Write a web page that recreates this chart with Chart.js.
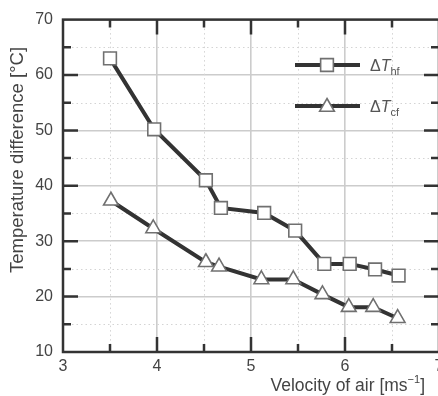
<!DOCTYPE html>
<html>
<head>
<meta charset="utf-8">
<script src="https://cdn.jsdelivr.net/npm/chart.js@4.4.1/dist/chart.umd.min.js"></script>
<style>
  html, body { margin: 0; padding: 0; background: #fff; overflow: hidden; }
  #wrap { width: 460px; height: 396px; position: relative; }
</style>
</head>
<body>
<div id="wrap"><canvas id="chart"></canvas></div>
<script>
// values
const hfVelocity = [3.50, 3.97, 4.52, 4.68, 5.14, 5.47, 5.78, 6.05, 6.32, 6.57];
const hfDelta    = [63.0, 50.2, 41.0, 36.0, 35.1, 31.9, 25.9, 25.9, 24.9, 23.8];
const cfVelocity = [3.51, 3.96, 4.52, 4.66, 5.11, 5.45, 5.76, 6.04, 6.30, 6.56];
const cfDelta    = [37.3, 32.3, 26.2, 25.4, 23.1, 23.1, 20.4, 18.1, 18.1, 16.1];

const xMin = 3, xMax = 7, xStep = 0.5;
const yMin = 10, yMax = 70, yStep = 5;

const FONT = "'Liberation Sans', Arial, sans-serif";
const AXIS = "#333";
const MARK = "#707070";

function pairs(xs, ys) {
    return xs.map((x, i) => ({ x: x, y: ys[i] }));
}

// inward ticks, dotted minor grid, frame, legend and axis titles
const decorations = {
    id: "decorations",
    beforeDatasetsDraw(chart) {
        const ctx = chart.ctx;
        const a = chart.chartArea;
        const xs = chart.scales.x, ys = chart.scales.y;
        ctx.save();
        ctx.strokeStyle = "#d4d4d4";
        ctx.lineWidth = 1;
        ctx.setLineDash([1.5, 3]);
        for (let v = xMin; v <= xMax; v += xStep) {
            if (Number.isInteger(v)) continue;
            const px = Math.round(xs.getPixelForValue(v)) + 0.5;
            ctx.beginPath(); ctx.moveTo(px, a.top); ctx.lineTo(px, a.bottom); ctx.stroke();
        }
        for (let v = yMin; v <= yMax; v += yStep) {
            if (v % 10 === 0) continue;
            const py = Math.round(ys.getPixelForValue(v)) + 0.5;
            ctx.beginPath(); ctx.moveTo(a.left, py); ctx.lineTo(a.right, py); ctx.stroke();
        }
        ctx.restore();
    },
    afterDatasetsDraw(chart) {
        const ctx = chart.ctx;
        const a = chart.chartArea;
        const xs = chart.scales.x, ys = chart.scales.y;
        ctx.save();
        ctx.strokeStyle = AXIS;
        ctx.lineWidth = 2.5;
        ctx.setLineDash([]);
        for (let v = xMin + xStep; v < xMax; v += xStep) {
            const len = Number.isInteger(v) ? 15 : 8;
            const px = xs.getPixelForValue(v);
            ctx.beginPath();
            ctx.moveTo(px, a.bottom); ctx.lineTo(px, a.bottom - len);
            ctx.moveTo(px, a.top); ctx.lineTo(px, a.top + len);
            ctx.stroke();
        }
        for (let v = yMin + yStep; v < yMax; v += yStep) {
            const len = v % 10 === 0 ? 15 : 8;
            const py = ys.getPixelForValue(v);
            ctx.beginPath();
            ctx.moveTo(a.left, py); ctx.lineTo(a.left + len, py);
            ctx.moveTo(a.right, py); ctx.lineTo(a.right - len, py);
            ctx.stroke();
        }
        ctx.strokeRect(a.left, a.top, a.right - a.left, a.bottom - a.top);

        // legend
        const rows = [
            { y: 65, style: "rect", radius: 9, sub: "hf" },
            { y: 106, style: "triangle", radius: 8.5, sub: "cf" }
        ];
        rows.forEach(r => {
            ctx.strokeStyle = AXIS;
            ctx.lineWidth = 4;
            ctx.beginPath(); ctx.moveTo(295, r.y); ctx.lineTo(360, r.y); ctx.stroke();
            ctx.fillStyle = "#fff";
            ctx.strokeStyle = MARK;
            ctx.lineWidth = 1.6;
            Chart.helpers.drawPoint(ctx, { pointStyle: r.style, radius: r.radius, rotation: 0, borderWidth: 1.6 }, 327, r.y + (r.style === "triangle" ? 1 : 0));
            ctx.fillStyle = "#555";
            ctx.textBaseline = "alphabetic";
            ctx.textAlign = "left";
            ctx.font = "16px " + FONT;
            ctx.fillText("\u0394", 370, r.y + 6);
            let w = ctx.measureText("\u0394").width;
            ctx.font = "italic 16px " + FONT;
            ctx.fillText("T", 370 + w, r.y + 6);
            w += ctx.measureText("T").width;
            ctx.font = "11px " + FONT;
            ctx.fillText(r.sub, 370 + w, r.y + 10);
        });

        // axis titles
        ctx.fillStyle = "#444";
        ctx.font = "17.5px " + FONT;
        ctx.textAlign = "left";
        const main = "Velocity of air [ms";
        const wMain = ctx.measureText(main).width;
        ctx.font = "11px " + FONT;
        const wSup = ctx.measureText("\u22121").width;
        ctx.font = "17.5px " + FONT;
        const wEnd = ctx.measureText("]").width;
        const x0 = 425 - (wMain + wSup + wEnd);
        ctx.fillText(main, x0, 391);
        ctx.font = "11px " + FONT;
        ctx.fillText("\u22121", x0 + wMain, 383);
        ctx.font = "17.5px " + FONT;
        ctx.fillText("]", x0 + wMain + wSup, 391);

        ctx.translate(18, 160);
        ctx.rotate(-Math.PI / 2);
        ctx.textAlign = "center";
        ctx.textBaseline = "middle";
        ctx.font = "18.5px " + FONT;
        ctx.fillText("Temperature difference [\u00B0C]", 0, 0);
        ctx.restore();
    }
};

document.addEventListener("DOMContentLoaded", function () {
    const ctx = document.getElementById("chart").getContext("2d");

    const myChart = new Chart(ctx, {
        type: "scatter",
        data: {
            datasets: [{
                label: "\u0394T hf",
                data: pairs(hfVelocity, hfDelta),
                showLine: true,
                borderColor: AXIS,
                borderWidth: 4,
                pointStyle: "rect",
                pointRadius: 9,
                pointBackgroundColor: "#fff",
                pointBorderColor: MARK,
                pointBorderWidth: 1.6
            }, {
                label: "\u0394T cf",
                data: pairs(cfVelocity, cfDelta),
                showLine: true,
                borderColor: AXIS,
                borderWidth: 4,
                pointStyle: "triangle",
                pointRadius: 8.5,
                pointBackgroundColor: "#fff",
                pointBorderColor: MARK,
                pointBorderWidth: 1.6
            }]
        },
        options: {
            responsive: true,
            maintainAspectRatio: false,
            animation: false,
            layout: { padding: { top: 18, right: 21, left: 0, bottom: 0 } },
            plugins: { legend: { display: false }, tooltip: { enabled: false } },
            scales: {
                x: {
                    type: "linear",
                    min: xMin, max: xMax,
                    afterFit: s => { s.height = 44; },
                    border: { display: false },
                    grid: {
                        drawTicks: false,
                        lineWidth: 1.6,
                        color: c => Number.isInteger(c.tick.value) ? "#cccccc" : "rgba(0,0,0,0)"
                    },
                    ticks: {
                        stepSize: xStep,
                        autoSkip: false,
                        maxRotation: 0,
                        padding: 5,
                        color: "#444",
                        font: { family: FONT, size: 16 },
                        callback: v => Number.isInteger(v) ? String(v) : ""
                    }
                },
                y: {
                    min: yMin, max: yMax,
                    afterFit: s => { s.width = 63; },
                    border: { display: false },
                    grid: {
                        drawTicks: false,
                        lineWidth: 1.6,
                        color: c => c.tick.value % 10 === 0 ? "#cccccc" : "rgba(0,0,0,0)"
                    },
                    ticks: {
                        stepSize: yStep,
                        autoSkip: false,
                        padding: 10,
                        color: "#444",
                        font: { family: FONT, size: 16 },
                        callback: v => v % 10 === 0 ? String(v) : ""
                    }
                }
            }
        },
        plugins: [decorations]
    });
});
</script>
</body>
</html>
